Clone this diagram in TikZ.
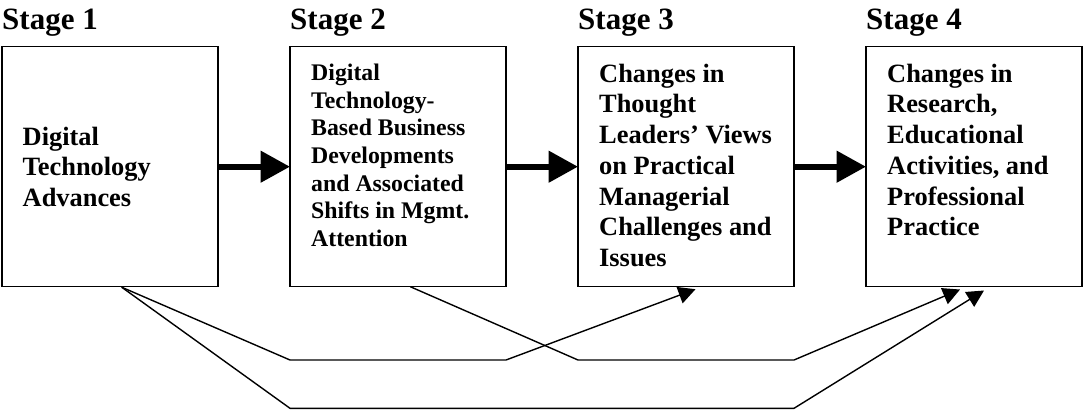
\documentclass[tikz,border=0pt]{standalone}
\usepackage{fontspec}
\setmainfont{Liberation Serif}
\usetikzlibrary{positioning,calc,arrows.meta}

\tikzset{
  stagebox/.style={draw,line width=1.4pt,minimum width=216pt,minimum height=240pt,inner sep=0pt,outer sep=0pt},
  stagetag/.style={font=\fontsize{31}{36}\selectfont\bfseries,inner sep=0pt,anchor=base west},
  boxtext/.style={font=\fontsize{26.4}{30.7}\selectfont\bfseries,align=left,inner sep=0pt},
  smalltext/.style={boxtext,font=\fontsize{23.8}{27.7}\selectfont\bfseries},
  bigarrow/.style={line width=6pt,-{Triangle[length=29.5pt,width=30.6pt]}},
  link/.style={line width=1.4pt,-{Triangle[length=17pt,width=17.2pt]}}
}

\begin{document}
\begin{tikzpicture}[x=1pt,y=-1pt]
\useasboundingbox (0,0) rectangle (1083,410);
\coordinate (tagline) at (0,29);
\coordinate (upper) at (0,360);
\coordinate (lower) at (0,408.3);

\node[stagebox] (b1) at (110,166.7) {};
\node[stagebox,right=72pt of b1] (b2) {};
\node[stagebox,right=72pt of b2] (b3) {};
\node[stagebox,right=72pt of b3] (b4) {};

\node[stagetag] (s1) at (b1.north west |- tagline) {Stage 1};
\node[stagetag] (s2) at (b2.north west |- tagline) {Stage 2};
\node[stagetag] (s3) at (b3.north west |- tagline) {Stage 3};
\node[stagetag] (s4) at (b4.north west |- tagline) {Stage 4};

\node[boxtext,right=20.5pt of b1.west] (t1) {Digital\\Technology\\Advances};
\node[smalltext,below right=16.9pt and 21pt of b2.north west] (t2) {Digital\\Technology-\\Based Business\\Developments\\and Associated\\Shifts in Mgmt.\\Attention};
\node[boxtext,below right=17pt and 21pt of b3.north west] (t3) {Changes in\\Thought\\Leaders’ Views\\on Practical\\Managerial\\Challenges and\\Issues};
\node[boxtext,below right=17pt and 21pt of b4.north west] (t4) {Changes in\\Research,\\Educational\\Activities, and\\Professional\\Practice};

\draw[bigarrow] (b1) -- (b2);
\draw[bigarrow] (b2) -- (b3);
\draw[bigarrow] (b3) -- (b4);

% links running under the boxes
\draw[link] ($(b1.south)+(11.7,0.5)$) -- (b2.west |- upper) -- (b2.east |- upper) -- ($(b3.south)+(9.5,2.5)$);
\draw[link] ($(b2.south)+(12.3,0)$) -- (b3.west |- upper) -- (b3.east |- upper) -- ($(b4.south)+(-14,2.8)$);
\draw[link] ($(b1.south)+(11.7,0.5)$) -- (b2.west |- lower) -- (b3.east |- lower) -- ($(b4.south)+(10,3.8)$);
\end{tikzpicture}
\end{document}
